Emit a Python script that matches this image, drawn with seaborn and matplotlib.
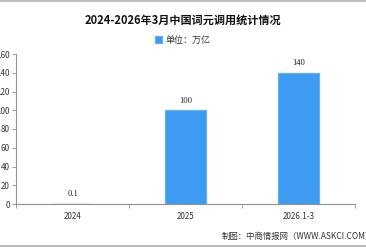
import matplotlib
matplotlib.use("Agg")
import matplotlib.pyplot as plt
import seaborn as sns
import pandas as pd
from matplotlib.lines import Line2D
from matplotlib.ticker import FixedLocator

categories = ["2024", "2025", "2026.1-3"]
values = [0.1, 100, 140]
value_labels = ["0.1", "100", "140"]
yticks = [0, 20, 40, 60, 80, 100, 120, 140, 160]

sns.set_theme(style="white")
plt.rcParams['font.family'] = ['Noto Sans CJK SC', 'DejaVu Sans']

color = "#3d9bf2"
df = pd.DataFrame({"cat": categories, "val": values})

fig = plt.figure(figsize=(3.66, 2.48), dpi=100)
ax = fig.add_axes([16/366, 44/248, 339/366, 150/248])
sns.barplot(data=df, x="cat", y="val", color=color, width=0.36, ax=ax,
            saturation=1, label="单位：万亿", edgecolor="#6aaee6", linewidth=0.9)
ax.set_xlim(-0.5, 2.5)
ax.set_ylim(0, 160)
ax.set_yticks(yticks)
ax.set_xlabel("")
ax.set_ylabel("")
for s in ["top", "right"]:
    ax.spines[s].set_visible(False)
for s in ["left", "bottom"]:
    ax.spines[s].set_color("#909090")
    ax.spines[s].set_linewidth(0.8)
ax.tick_params(axis="y", which="major", length=3, width=0.6, color="#909090",
               labelsize=5.8, pad=1.5, labelcolor="#333333", left=True)
ax.tick_params(axis="x", which="major", length=0, labelsize=5.8, pad=6,
               labelcolor="#333333")
ax.xaxis.set_minor_locator(FixedLocator([-0.5, 0.5, 1.5, 2.5]))
ax.tick_params(axis="x", which="minor", length=3, width=0.6, color="#909090",
               bottom=True)

for c in ax.containers:
    ax.bar_label(c, labels=value_labels, padding=4, fontsize=6.2, color="#222222",
                 family=["Liberation Serif", "DejaVu Serif"])

fig.text(0.5, 1 - 20/248, "2024-2026年3月中国词元调用统计情况", ha="center",
         va="center", fontsize=8, fontweight="bold", color="#111111")
leg = ax.legend(loc="center", bbox_to_anchor=(0.5, 1 - 40/248), bbox_transform=fig.transFigure,
                frameon=False, fontsize=6.5, handlelength=0.8, handleheight=0.8,
                handletextpad=0.4)
for t in leg.get_texts():
    t.set_color("#333333")

fig.text(222/366, 1 - 236/248, "制图：中商情报网（WWW.ASKCI.COM）", ha="left",
         va="center", fontsize=6, color="#333333")

fig.add_artist(Line2D([0, 1], [1 - 1/248, 1 - 1/248], color="#b0b0b0", lw=1.2))
fig.add_artist(Line2D([0, 1], [1 - 246/248, 1 - 246/248], color="#b0b0b0", lw=1.2))

fig.savefig("out.png", dpi=100)
